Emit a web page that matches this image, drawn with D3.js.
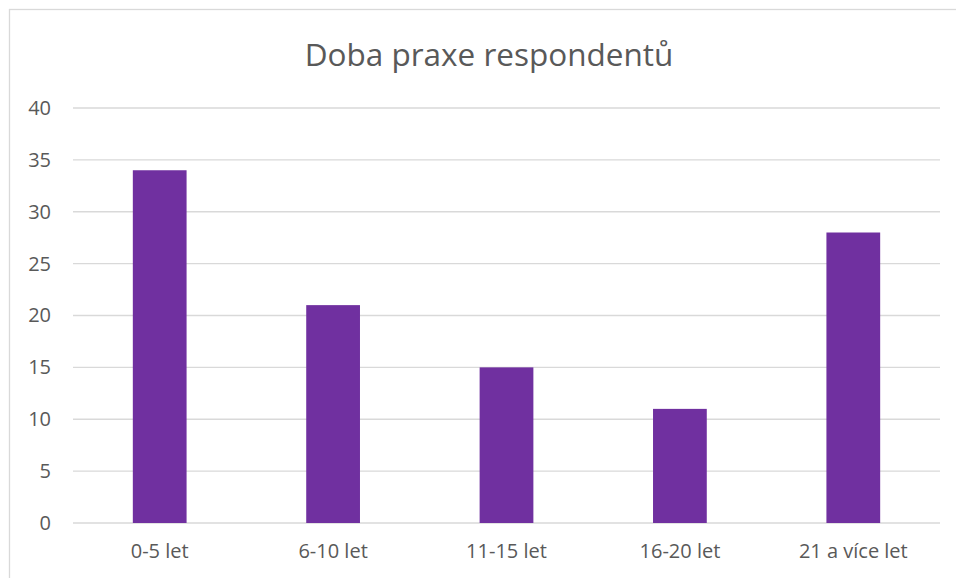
<!DOCTYPE html>
<html>
<head>
<meta charset="utf-8">
<script src="https://cdn.jsdelivr.net/npm/d3@7"></script>
<style>
  body { margin: 0; background: #fff; }
  text { font-family: "Open Sans", "Noto Sans", sans-serif; fill: #595959; }
</style>
</head>
<body>
<div id="chart"></div>
<script>
// data
const categories = ['0-5 let', '6-10 let', '11-15 let', '16-20 let', '21 a více let'];
const values = [34, 21, 15, 11, 28];
const yTicks = [0, 5, 10, 15, 20, 25, 30, 35, 40];
const title = 'Doba praxe respondentů';

const svgWidth = 956;
const svgHeight = 578;
const margin = {top: 108, right: 16, bottom: 55, left: 73};
const width = 940 - margin.left;
const height = 523 - margin.top;

const svg = d3.select('#chart').append('svg')
    .attr('width', svgWidth).attr('height', svgHeight);

// outer chart border (runs off the right and bottom edge)
svg.append('rect')
    .attr('x', 9.5).attr('y', 9.5)
    .attr('width', svgWidth + 10).attr('height', svgHeight + 10)
    .attr('fill', 'none').attr('stroke', '#d9d9d9').attr('stroke-width', 1.3);

svg.append('text')
    .attr('x', 489).attr('y', 66)
    .attr('text-anchor', 'middle')
    .style('font-size', '31.5px')
    .text(title);

const chartGroup = svg.append('g').attr('transform', `translate(${margin.left}, ${margin.top})`);

const x = d3.scaleBand().domain(categories).range([0, width]).paddingInner(0.69).paddingOuter(0.345);
const y = d3.scaleLinear().domain([0, 40]).range([height, 0]);

// gridlines
chartGroup.append('g')
    .selectAll('line').data(yTicks).enter()
    .append('line')
    .attr('x1', 0).attr('x2', width)
    .attr('y1', d => y(d)).attr('y2', d => y(d))
    .attr('stroke', '#d9d9d9').attr('stroke-width', 1.3);

// y labels
const yAxis = chartGroup.append('g')
    .call(d3.axisLeft(y).tickValues(yTicks).tickSize(0).tickPadding(22));
yAxis.select('.domain').remove();
yAxis.selectAll('text').style('font-size', '20px').attr('fill', '#595959');

// bars
chartGroup.selectAll('rect.bar').data(values).enter()
    .append('rect')
    .attr('class', 'bar')
    .attr('x', (d, i) => x(categories[i]))
    .attr('width', x.bandwidth())
    .attr('y', d => y(d))
    .attr('height', d => height - y(d))
    .attr('fill', '#7030a0');

// x labels
const xAxis = chartGroup.append('g')
    .attr('transform', `translate(0, ${height})`)
    .call(d3.axisBottom(x).tickSize(0).tickPadding(21));
xAxis.select('.domain').remove();
xAxis.selectAll('text').style('font-size', '20px').attr('fill', '#595959');
</script>
</body>
</html>
